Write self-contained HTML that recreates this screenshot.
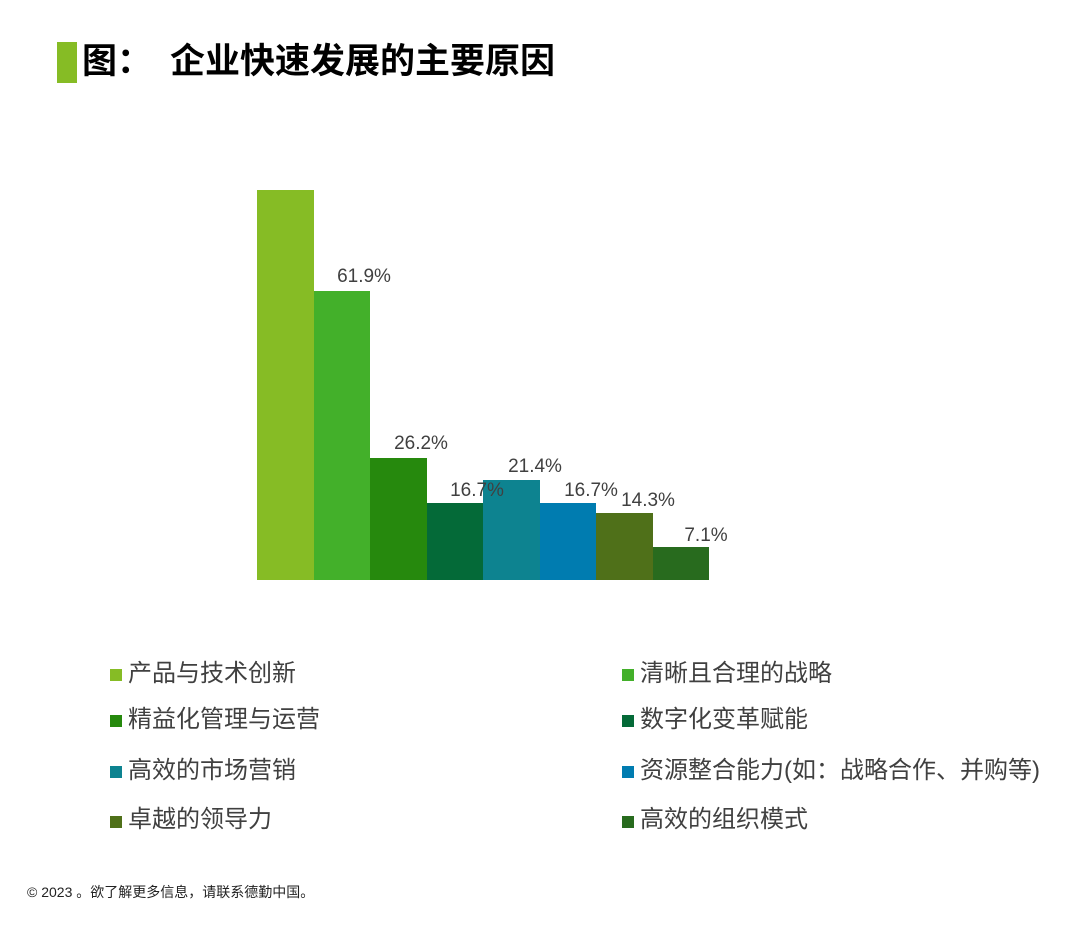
<!DOCTYPE html>
<html><head><meta charset="utf-8"><style>
body{margin:0;width:1080px;height:925px;background:#fff;position:relative;overflow:hidden;font-family:"Liberation Sans","Noto Sans CJK SC",sans-serif}
.a{position:absolute;white-space:nowrap}
.bar{position:absolute;bottom:345px}
.lbl{position:absolute;font-size:19px;color:#404040;width:80px;text-align:center}
.sq{position:absolute;width:12px;height:12px}
.lg{position:absolute;font-size:24px;color:#404040;white-space:nowrap;line-height:24px}
</style></head><body>
<div class="a" style="left:57px;top:42px;width:20px;height:41px;background:#86bc25"></div>
<div class="a" style="left:82px;top:40px;font-size:35px;font-weight:bold;line-height:44px;color:#000">图：</div>
<div class="a" style="left:170px;top:40px;font-size:35px;font-weight:bold;line-height:44px;color:#000">企业快速发展的主要原因</div>

<div class="bar" style="left:257px;width:57px;top:190px;background:#86bc25"></div>
<div class="bar" style="left:314px;width:56px;top:291px;background:#43b02a"></div>
<div class="bar" style="left:370px;width:57px;top:458px;background:#26890d"></div>
<div class="bar" style="left:427px;width:56px;top:503px;background:#046a38"></div>
<div class="bar" style="left:483px;width:57px;top:480px;background:#0d8390"></div>
<div class="bar" style="left:540px;width:56px;top:503px;background:#007cb0"></div>
<div class="bar" style="left:596px;width:57px;top:513px;background:#4f7019"></div>
<div class="bar" style="left:653px;width:56px;top:547px;background:#286b1e"></div>

<div class="lbl" style="left:324px;top:266px">61.9%</div>
<div class="lbl" style="left:381px;top:433px">26.2%</div>
<div class="lbl" style="left:437px;top:480px">16.7%</div>
<div class="lbl" style="left:495px;top:456px">21.4%</div>
<div class="lbl" style="left:551px;top:480px">16.7%</div>
<div class="lbl" style="left:608px;top:490px">14.3%</div>
<div class="lbl" style="left:666px;top:525px">7.1%</div>

<div class="sq" style="left:110px;top:669px;background:#86bc25"></div><div class="lg" style="left:128px;top:662px">产品与技术创新</div>
<div class="sq" style="left:622px;top:669px;background:#43b02a"></div><div class="lg" style="left:640px;top:662px">清晰且合理的战略</div>
<div class="sq" style="left:110px;top:715px;background:#26890d"></div><div class="lg" style="left:128px;top:708px">精益化管理与运营</div>
<div class="sq" style="left:622px;top:715px;background:#046a38"></div><div class="lg" style="left:640px;top:708px">数字化变革赋能</div>
<div class="sq" style="left:110px;top:766px;background:#0d8390"></div><div class="lg" style="left:128px;top:759px">高效的市场营销</div>
<div class="sq" style="left:622px;top:766px;background:#007cb0"></div><div class="lg" style="left:640px;top:759px">资源整合能力(如：战略合作、并购等)</div>
<div class="sq" style="left:110px;top:816px;background:#4f7019"></div><div class="lg" style="left:128px;top:808px">卓越的领导力</div>
<div class="sq" style="left:622px;top:816px;background:#286b1e"></div><div class="lg" style="left:640px;top:808px">高效的组织模式</div>

<div class="a" style="left:27px;top:882px;font-size:14px;color:#222">© 2023 。欲了解更多信息，请联系德勤中国。</div>
</body></html>
